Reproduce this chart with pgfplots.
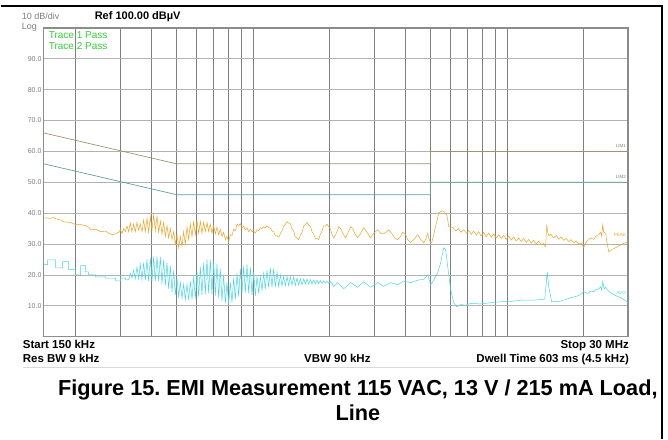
\documentclass[border=0pt]{standalone}
\usepackage{fontspec}
\setmainfont{Liberation Sans}
\usepackage{pgfplots}
\pgfplotsset{compat=1.18}
\definecolor{peakc}{RGB}{236,163,38}
\definecolor{avgc}{RGB}{72,214,226}
\definecolor{lim1c}{RGB}{160,148,108}
\definecolor{lim2c}{RGB}{96,160,160}
\definecolor{passc}{RGB}{52,204,52}
\definecolor{labc}{RGB}{125,125,125}
\frenchspacing
\begin{document}
\begin{tikzpicture}[x=1pt,y=1pt]
\path (0,0) rectangle (668,439);
\draw[line width=1.4pt] (0,433) -- (662,433) -- (662,0);
\begin{axis}[
  at={(43pt,102pt)}, anchor=south west, scale only axis,
  width=585pt, height=309pt,
  xmode=log, xmin=0.15, xmax=30, ymin=0, ymax=100,
  xtick={0.2,0.3,0.4,0.5,0.6,0.7,0.8,0.9,1,2,3,4,5,6,7,8,9,10,20},
  xticklabels={},
  ytick={10,20,30,40,50,60,70,80,90},
  yticklabels={10.0,20.0,30.0,40.0,50.0,60.0,70.0,80.0,90.0},
  /pgf/number format/assume math mode=true,
  major tick length=0pt, minor tick length=0pt,
  yticklabel style={font=\fontsize{7}{8}\selectfont, text=labc, inner sep=1pt, xshift=-1pt},
  xmajorgrids, ymajorgrids,
  x grid style={black!50, line width=0.7pt},
  y grid style={black!30, line width=0.8pt},
  axis line style={black!45, line width=1.5pt},
  clip=true,
]
% Limit 1
\addplot[lim1c, line width=0.7pt] coordinates {(0.15,66)(0.5,56)(5,56)(5,60)(30,60)};
% Limit 2
\addplot[lim2c, line width=0.7pt] coordinates {(0.15,56)(0.5,46)(5,46)(5,50)(30,50)};
% Trace 1 (peak)
\addplot[peakc, line width=0.5pt] coordinates {
(0.150,38.5)(0.1598,38.3)(0.1628,38.6)(0.1672,38.2)(0.1750,37.8)(0.1798,37.2)(0.1916,37)(0.2005,36.3)(0.2098,36.3)(0.2195,36)(0.2256,35.5)(0.2297,34.6)(0.2404,34.8)(0.2515,34)(0.2632,34.2)(0.2704,33.5)(0.2804,33)(0.2881,33.3)
(0.29608,33.8)(0.30059,34.6)(0.30516,33.5)(0.30981,35)(0.31453,34)(0.31931,35.8)(0.32418,34)(0.32911,36.8)(0.33412,34)(0.33922,36.5)(0.34438,34)(0.34962,37)(0.35495,34.5)(0.36035,36.5)(0.36584,34)(0.37141,37.8)(0.37706,34)(0.38280,38.3)(0.38864,33.8)(0.39456,38.8)(0.40056,34.5)(0.40666,39.5)(0.41285,34.5)(0.41913,39)(0.42552,33.8)(0.43200,37.5)(0.43857,33.2)(0.44526,37)(0.45204,32.5)(0.45892,36)(0.46591,32)(0.47300,35)(0.48020,31.5)(0.48752,34)(0.49494,30)(0.50247,33)(0.51013,28.8)(0.51789,32.5)(0.52578,29.2)(0.53379,34)(0.54191,30)(0.55016,35.5)(0.55855,31.5)(0.56705,36.5)(0.57568,32.5)(0.58446,37.2)(0.59336,33)(0.60239,37.5)(0.61157,33.5)(0.62088,37.3)(0.63033,33.5)(0.63993,37)(0.64967,34)(0.65956,37)(0.66961,34)(0.67980,36.5)(0.69015,33.5)(0.70067,36)(0.71133,33.3)(0.72216,35.5)(0.73317,33)(0.74433,34.8)(0.75566,32.5)(0.76717,33.8)(0.77885,31.5)(0.79070,32.5)(0.80275,30.7)(0.81497,33)(0.82737,32.8)(0.83999,34.8)(0.85277,34.3)(0.86575,36.5)(0.87895,36)(0.89233,36.6)(0.90591,35.2)(0.91971,35.8)(0.93371,34.6)(0.94792,35.3)(0.96237,34)(0.97702,34.8)(0.99189,34)(1.00700,34.2)(1.02233,33.6)(1.03789,34.6)(1.05371,34.3)(1.06975,35.3)(1.08603,35)(1.10258,35.6)(1.11936,35.2)(1.13640,35.9)(1.15372,35.2)(1.17128,35.2)(1.18911,34.2)(1.20723,34)(1.22560,32.6)(1.24426,32.7)(1.26322,32.2)(1.28245,33.4)(1.30196,34.2)(1.32181,35.8)(1.34193,36.4)(1.36235,37.3)(1.38312,36.8)(1.40417,36.6)(1.42554,35)(1.44727,34.2)(1.46930,32.3)(1.49166,32)(1.51440,31.4)(1.53745,32.8)(1.56085,33.8)(1.58464,35.8)(1.60876,36.2)(1.63324,37)(1.65813,36.2)(1.68337,35.8)(1.70899,34)(1.73504,33.2)(1.76145,31.8)(1.78825,31.8)(1.81551,31.4)(1.84314,33.2)(1.87119,34.2)(1.89972,35.9)(1.92863,35.8)(1.95798,36.4)(1.98783,35.6)(2.01809,35)(2.04880,33)
(2.0800,32)(2.1181,33)(2.1568,34.5)(2.1765,35.6)(2.2163,35)(2.2569,33.5)(2.3191,32)(2.3615,33.5)(2.4267,35.6)(2.4711,35)(2.5163,33.5)(2.5857,32)(2.6570,33.5)(2.7303,35.3)(2.8055,34)(2.9092,32)(2.9894,33.5)(3.0998,34.6)(3.1853,33.5)(3.2732,33.3)(3.3634,34)(3.4250,34.6)(3.5194,33.5)(3.6165,32)(3.7161,31.4)(3.8187,32.5)(3.8885,33.8)(3.9958,33)(4.0689,31.5)(4.1811,30.4)(4.2964,31.5)(4.4550,33)(4.5779,31.5)(4.7042,30.4)(4.7902,31.5)(4.8779,33.5)(4.9224,32)(5.0124,30.4)(5.0580,30.5)(5.1507,33)(5.2449,36)(5.3409,38.5)(5.3896,40.1)(5.4882,40.5)(5.5886,40.8)(5.6909,40.3)(5.7950,39.5)(5.8478,38)(5.9011,35.6)(6.0091,35.5)(6.1190,35.4)(6.2878,34.2)(6.4612,35)(6.5794,33.8)(6.7609,34.6)(6.9472,33.5)
(7.0745,34.4)(7.2366,33.1)(7.4026,34.2)(7.5723,32.9)(7.7459,34.0)(7.9235,32.6)(8.1052,33.8)(8.2910,32.4)(8.4811,33.6)(8.6755,32.2)(8.8745,33.3)(9.0779,32.0)(9.2861,33.0)(9.4990,31.8)(9.7168,32.8)(9.9395,31.5)(10.1675,32.6)(10.4005,31.3)(10.6391,32.3)(10.8830,31.0)(11.1325,32.0)(11.3877,30.8)(11.6489,31.8)(11.9160,30.5)(12.1892,31.5)(12.4686,30.3)(12.7545,31.2)(13.0469,30.0)(13.3461,31.0)(13.6520,29.8)(13.9651,30.2)(14.092,29.5)(14.2205,29.1)(14.285,33)(14.350,36.2)(14.481,34)(14.613,32.7)(14.880,33.2)(15.2905,32.0)(15.641,32.8)(16.0,31.6)(16.367,32.3)(16.742,31.2)(17.126,31.8)(17.519,30.8)(17.921,31.4)(18.331,30.4)(18.751,31.0)(19.182,30.0)(19.622,30.4)(20.071,28.8)(20.438,30.5)(21.002,31.5)(21.386,32)(21.976,31.5)(22.378,32.5)(22.995,33)(23.416,33.8)(23.629,32.5)(23.844,36.2)(24.062,34)(24.502,33.5)(24.725,31)(25.178,27.5)(25.638,28)(26.345,28.5)(27.071,29)(28.071,29.8)(29.109,30.3)(30,30.7)
};
% Trace 2 (average)
\addplot[avgc, line width=0.5pt] coordinates {
(0.150,23.3)(0.1555,23.3)(0.1555,24.9)(0.1672,24.9)(0.1672,22.3)(0.1782,22.3)(0.1782,24.3)(0.1882,24.3)(0.1882,21.7)(0.2005,21.7)(0.2005,20)(0.2098,20)(0.2098,23)(0.2195,23)(0.2195,21)(0.2256,21)(0.2256,20)(0.2404,20)(0.2404,19.4)(0.2632,19.4)(0.2632,19)(0.2881,19)(0.2881,18.1)(0.3015,18.1)(0.3015,19)(0.3155,19)(0.3155,18.4)
(0.32418,18.4)(0.32911,20.5)(0.33412,19)(0.33922,21.5)(0.34438,18.8)(0.34962,22.5)(0.35495,18.8)(0.36035,23.5)(0.36584,18.5)(0.37141,24)(0.37706,18.3)(0.38280,25)(0.38864,18)(0.39456,25.5)(0.40056,18)(0.40666,26)(0.41285,18)(0.41913,26)(0.42552,18)(0.43200,25.8)(0.43857,17)(0.44526,25)(0.45204,16.5)(0.45892,24)(0.46591,15.5)(0.47300,23)(0.48020,14.5)(0.48752,21.5)(0.49494,13.5)(0.50247,19)(0.51013,13)(0.51789,17.5)(0.52578,12.5)(0.53379,17)(0.54191,12)(0.55016,17)(0.55855,11.8)(0.56705,18)(0.57568,12)(0.58446,19.5)(0.59336,12.3)(0.60239,21)(0.61157,13)(0.62088,22.5)(0.63033,13.5)(0.63993,24)(0.64967,13.8)(0.65956,25)(0.66961,14)(0.67980,25)(0.69015,13.8)(0.70067,24.5)(0.71133,13.3)(0.72216,23.5)(0.73317,12.5)(0.74433,22)(0.75566,11.5)(0.76717,20)(0.77885,10.8)(0.79070,17.5)(0.80275,10.5)(0.81497,17.5)(0.82737,11)(0.83999,19)(0.85277,12)(0.86575,20.5)(0.87895,13)(0.89233,22)(0.90591,14)(0.91971,23)(0.93371,14.3)(0.94792,23.3)(0.96237,14)(0.97702,22.5)(0.99189,13.5)(1.00700,21)(1.02233,13.2)(1.03789,19.5)(1.05371,14)(1.06975,19.5)(1.08603,15)(1.10258,20.5)(1.11936,15.5)(1.13640,21.5)(1.15372,16)(1.17128,22.3)(1.18911,16)(1.20723,22)(1.22560,16)(1.24426,21)(1.26322,16.2)(1.28245,20)(1.30196,16.5)(1.32181,19.5)(1.34193,16.5)(1.36235,19.5)(1.38312,16.5)(1.40417,19.5)(1.42554,16.6)(1.44727,19.3)(1.46930,16.6)(1.49166,19)(1.51440,16.7)(1.53745,18.8)(1.56085,16.8)(1.58464,18.7)(1.60876,17)(1.63324,18.6)(1.65813,17)(1.68337,18.5)(1.70899,17)(1.73504,18.4)(1.76145,17.1)(1.78825,18.3)(1.81551,17.2)(1.84314,18.2)(1.87119,17.2)(1.89972,18.1)(1.92863,17.3)(1.95798,18)(1.98783,17.3)(2.01809,17.8)(2.04880,17.2)
(2.080,16.2)(2.157,17.5)(2.277,15.5)(2.427,17.5)(2.586,16)(2.730,17.8)(2.909,16)(3.100,17.5)(3.273,16.3)(3.488,17.5)(3.716,16.8)(3.924,18)(4.181,17.5)(4.455,18.3)(4.704,18.6)(4.878,20)(5.012,16.8)(5.151,18.4)(5.341,20.7)(5.488,23.9)(5.640,28.8)(5.743,28.2)(5.848,22.7)(6.009,15.2)(6.175,11)(6.345,9.7)(6.579,10.4)(6.885,10.2)(7.204,10.8)(7.888,10.6)(8.636,11)(9.456,11.3)(10.353,11.4)(11.336,11.8)(12.412,11.8)(13.590,12)(14.092,12.2)(14.285,17)(14.415,21)(14.613,16.2)(15.016,11.3)(16.293,11.5)(17.839,12.6)(18.666,13)(19.533,13.6)(20.071,14.6)(20.812,14)(21.386,14.8)(21.976,14.5)(22.378,15.2)(22.995,15.5)(23.416,16.2)(23.629,15)(23.844,17.8)(24.171,15.5)(24.502,16)(24.950,15)(25.638,14.2)(26.827,13.3)(28.071,12.6)(29.109,11.8)(30,11)
};
\end{axis}
% labels inside plot (right side)
\node[anchor=east, text=labc, font=\fontsize{4.5}{5}\selectfont, inner sep=1pt] at (627,293) {LIM1};
\node[anchor=east, text=labc, font=\fontsize{4.5}{5}\selectfont, inner sep=1pt] at (627,262) {LIM2};
\node[anchor=east, text=peakc, font=\fontsize{4.5}{5}\selectfont, inner sep=1pt] at (627,204) {PEAK};
\node[anchor=east, text=avgc, font=\fontsize{4.5}{5}\selectfont, inner sep=1pt] at (627,146) {AVG};
% header texts
\node[anchor=base west, text=labc, font=\fontsize{9}{10}\selectfont, inner sep=0pt] at (21,419.5) {10 dB/div};
\node[anchor=base west, text=labc, font=\fontsize{9}{10}\selectfont, inner sep=0pt] at (21,409.5) {Log};
\node[anchor=base west, font=\bfseries\fontsize{11}{12}\selectfont, inner sep=0pt] at (94,419.5) {Ref 100.00 dBµV};
\node[anchor=base west, text=passc, font=\fontsize{10}{11}\selectfont, inner sep=0pt] at (48,400.5) {Trace 1 Pass};
\node[anchor=base west, text=passc, font=\fontsize{10}{11}\selectfont, inner sep=0pt] at (48,389.5) {Trace 2 Pass};
% footer texts
\node[anchor=base west, font=\bfseries\fontsize{11.5}{12}\selectfont, inner sep=0pt] at (22,90) {Start 150 kHz};
\node[anchor=base west, font=\bfseries\fontsize{11.5}{12}\selectfont, inner sep=0pt] at (22,76) {Res BW 9 kHz};
\node[anchor=base, font=\bfseries\fontsize{11.5}{12}\selectfont, inner sep=0pt] at (337,76) {VBW 90 kHz};
\node[anchor=base east, font=\bfseries\fontsize{11.5}{12}\selectfont, inner sep=0pt] at (629,90) {Stop 30 MHz};
\node[anchor=base east, font=\bfseries\fontsize{11.5}{12}\selectfont, inner sep=0pt] at (629,76) {Dwell Time 603 ms (4.5 kHz)};
\draw[black!15, line width=0.8pt] (22,71) -- (630,71);
\node[anchor=base, font=\bfseries\fontsize{21.7}{25}\selectfont, inner sep=0pt] at (357.5,43) {Figure 15. EMI Measurement 115 VAC, 13 V / 215 mA Load,};
\node[anchor=base, font=\bfseries\fontsize{21.7}{25}\selectfont, inner sep=0pt] at (357.5,18) {Line};
\end{tikzpicture}
\end{document}
